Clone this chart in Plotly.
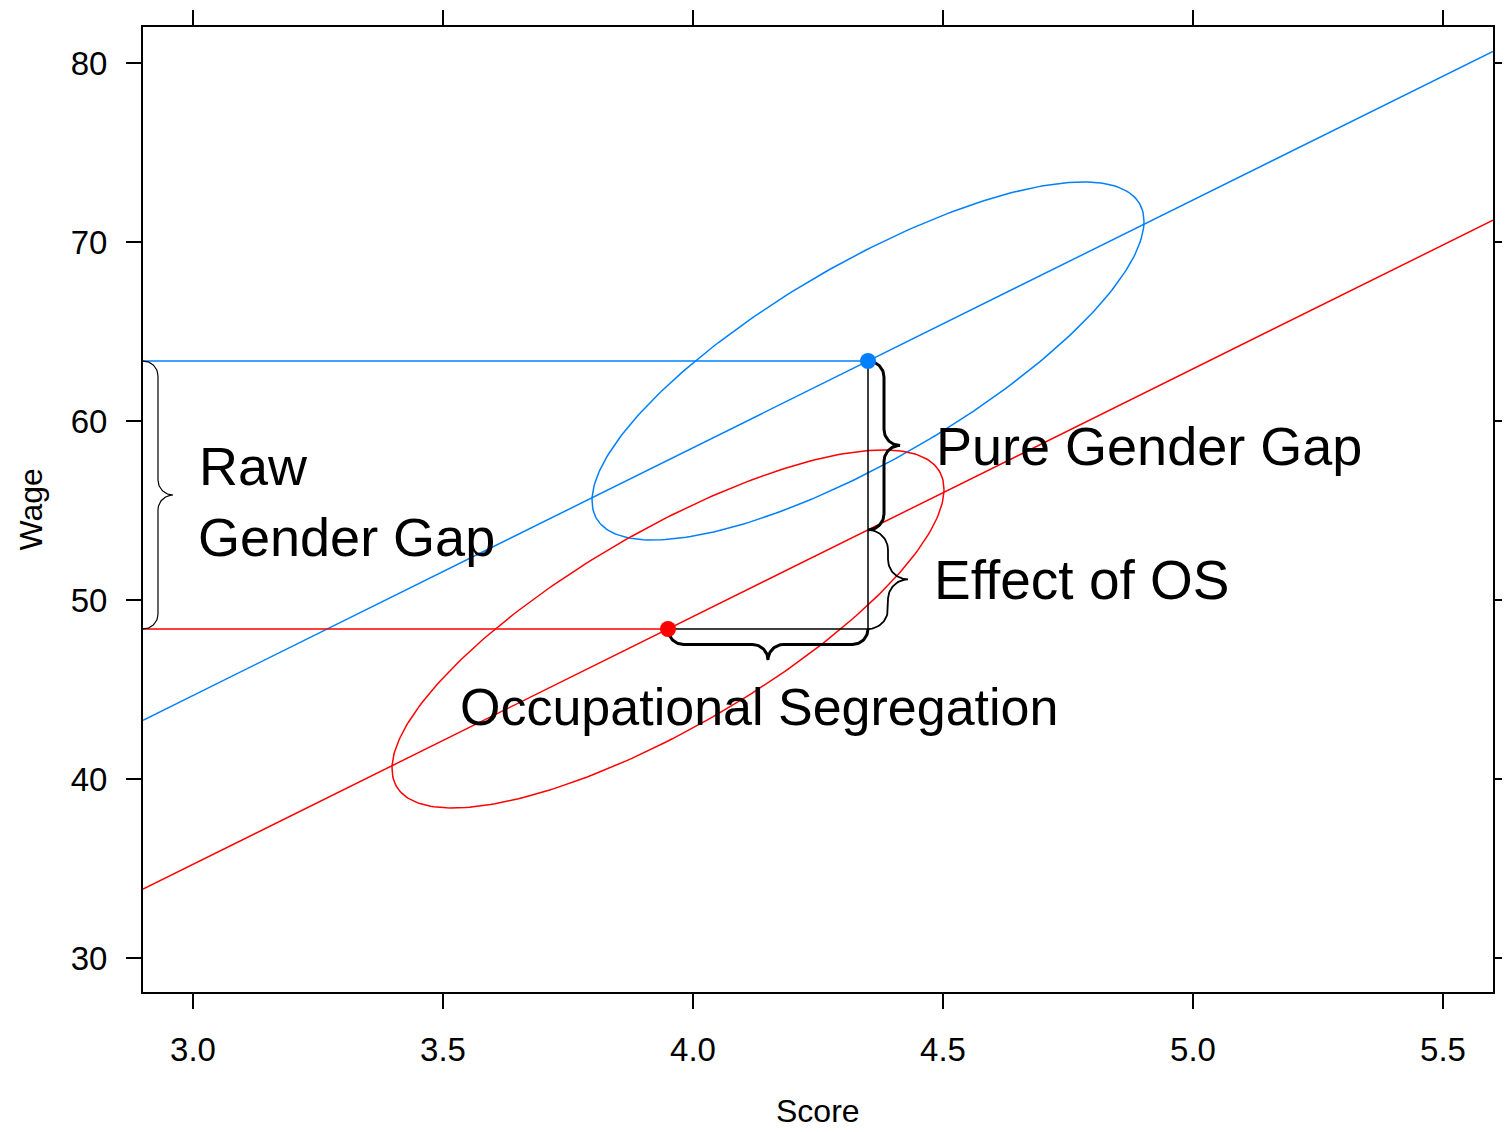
import numpy as np
import plotly.graph_objects as go

# ---------------- data ----------------
groups = ["Male", "Female"]
mean_score = [4.35, 3.95]
mean_wage = [63.35, 48.38]
sd_score = [0.552, 0.552]
sd_wage = [10.0, 10.0]
score_wage_corr = [0.78, 0.78]
common_slope = 13.84

x_ticks = [3.0, 3.5, 4.0, 4.5, 5.0, 5.5]
x_tick_labels = ["3.0", "3.5", "4.0", "4.5", "5.0", "5.5"]
y_ticks = [30, 40, 50, 60, 70, 80]
y_tick_labels = ["30", "40", "50", "60", "70", "80"]

# ---------------- style / layout ----------------
# page body has an 8px default margin; figure sized to fit the window
W, H = 1502, 1124
ML, MR, MT, MB = 135, 17, 19, 140
X_RANGE = [2.9, 5.6]
Y_RANGE = [28.1, 82.01]
COLORS = ["#0080ff", "#ff0000"]
FONT = "Liberation Sans, Arial, Helvetica, sans-serif"

SX = (W - ML - MR) / (X_RANGE[1] - X_RANGE[0])
SY = (H - MT - MB) / (Y_RANGE[1] - Y_RANGE[0])


def to_px(x, y):
    return np.array([(x - X_RANGE[0]) * SX, (Y_RANGE[1] - y) * SY])


def from_px(p):
    return X_RANGE[0] + p[..., 0] / SX, Y_RANGE[1] - p[..., 1] / SY


def brace(x0, y0, x1, y1, depth, normal):
    p0 = to_px(x0, y0)
    p1 = to_px(x1, y1)
    u = (p1 - p0) / np.linalg.norm(p1 - p0)
    n = np.array(normal, dtype=float)
    r = depth / 2.0
    mid = (p0 + p1) / 2
    th = np.linspace(0, np.pi / 2, 24)[:, None]
    c, s = np.cos(th), np.sin(th)
    C1 = p0 + r * u
    a1 = C1 + r * (-c * u + s * n)
    C2 = mid - r * u + 2 * r * n
    a2 = C2 + r * (-c * n + s * u)
    C3 = mid + r * u + 2 * r * n
    a3 = C3 + r * (-c * u - s * n)
    C4 = p1 - r * u
    a4 = C4 + r * (c * n + s * u)
    pts = np.vstack([a1, a2, a3, a4])
    return from_px(pts)


fig = go.Figure()

# ellipses
t = np.linspace(0, 2 * np.pi, 300)
for i in range(2):
    d = np.arccos(score_wage_corr[i])
    ex = mean_score[i] + sd_score[i] * np.cos(t)
    ey = mean_wage[i] + sd_wage[i] * np.cos(t - d)
    fig.add_trace(go.Scatter(x=ex, y=ey, mode="lines",
                             line=dict(color=COLORS[i], width=1.5),
                             hoverinfo="skip", showlegend=False))

# regression lines across the panel
for i in range(2):
    xs = np.array(X_RANGE)
    ys = mean_wage[i] + common_slope * (xs - mean_score[i])
    fig.add_trace(go.Scatter(x=xs, y=ys, mode="lines",
                             line=dict(color=COLORS[i], width=1.5),
                             hoverinfo="skip", showlegend=False))

# horizontal reference lines from the left edge to the means
fig.add_trace(go.Scatter(x=[X_RANGE[0], mean_score[0]], y=[mean_wage[0], mean_wage[0]],
                         mode="lines", line=dict(color=COLORS[0], width=1.5),
                         hoverinfo="skip", showlegend=False))
fig.add_trace(go.Scatter(x=[X_RANGE[0], mean_score[1]], y=[mean_wage[1], mean_wage[1]],
                         mode="lines", line=dict(color=COLORS[1], width=1.5),
                         hoverinfo="skip", showlegend=False))

# black connector: female mean -> right -> up to male mean
fig.add_trace(go.Scatter(x=[mean_score[1], mean_score[0], mean_score[0]],
                         y=[mean_wage[1], mean_wage[1], mean_wage[0]],
                         mode="lines", line=dict(color="black", width=1.5),
                         hoverinfo="skip", showlegend=False))

male_line_at_ref = mean_wage[1] + common_slope * (mean_score[0] - mean_score[1])

braces = [
    (X_RANGE[0], mean_wage[0], X_RANGE[0], mean_wage[1], 30, (1, 0), 1.2),
    (mean_score[0], mean_wage[0], mean_score[0], male_line_at_ref, 32, (1, 0), 3),
    (mean_score[0], male_line_at_ref, mean_score[0], mean_wage[1], 40, (1, 0), 1.8),
    (mean_score[1], mean_wage[1], mean_score[0], mean_wage[1], 31, (0, 1), 3),
]
for (x0, y0, x1, y1, dep, nrm, lw) in braces:
    bx, by = brace(x0, y0, x1, y1, dep, nrm)
    fig.add_trace(go.Scatter(x=bx, y=by, mode="lines",
                             line=dict(color="black", width=lw),
                             hoverinfo="skip", showlegend=False))

# group means
for i in range(2):
    fig.add_trace(go.Scatter(x=[mean_score[i]], y=[mean_wage[i]], mode="markers",
                             marker=dict(color=COLORS[i], size=16),
                             name=groups[i], hoverinfo="skip", showlegend=False))

labels = [
    ("Raw", 3.008, 57.49, 54),
    ("Gender Gap", 3.006, 53.52, 54),
    ("Pure Gender Gap", 4.481, 58.58, 54),
    ("Effect of OS", 4.477, 51.12, 55),
    ("Occupational Segregation", 3.530, 44.0, 52),
]
for txt, lx, ly, fs in labels:
    fig.add_annotation(x=lx, y=ly, xref="x", yref="y", text=txt, showarrow=False,
                       xanchor="left", yanchor="middle",
                       font=dict(family=FONT, size=fs, color="black"))

fig.add_annotation(x=0.5, y=0, xref="paper", yref="paper",
                   text="Score", showarrow=False, xanchor="center", yanchor="middle",
                   yshift=-119,
                   font=dict(family=FONT, size=32, color="black"))
fig.add_annotation(x=0, y=0.5, xref="paper", yref="paper", text="Wage", showarrow=False,
                   xanchor="center", yanchor="middle", textangle=-90, xshift=-113,
                   font=dict(family=FONT, size=32, color="black"))

axis_common = dict(showgrid=False, zeroline=False, showline=True, linecolor="black",
                   linewidth=2, mirror="allticks", ticks="outside", ticklen=15,
                   tickwidth=1.5, tickcolor="black", automargin=False,
                   tickfont=dict(family=FONT, size=33, color="black"))

fig.update_layout(
    width=W, height=H,
    margin=dict(l=ML, r=MR, t=MT, b=MB, pad=0, autoexpand=False),
    paper_bgcolor="white", plot_bgcolor="white",
    showlegend=False,
    xaxis=dict(range=X_RANGE, tickvals=x_ticks, ticktext=x_tick_labels,
               ticklabelstandoff=12, **axis_common),
    yaxis=dict(range=Y_RANGE, tickvals=y_ticks, ticktext=y_tick_labels,
               ticklabelstandoff=12, **axis_common),
)

fig.write_html("out.html")
